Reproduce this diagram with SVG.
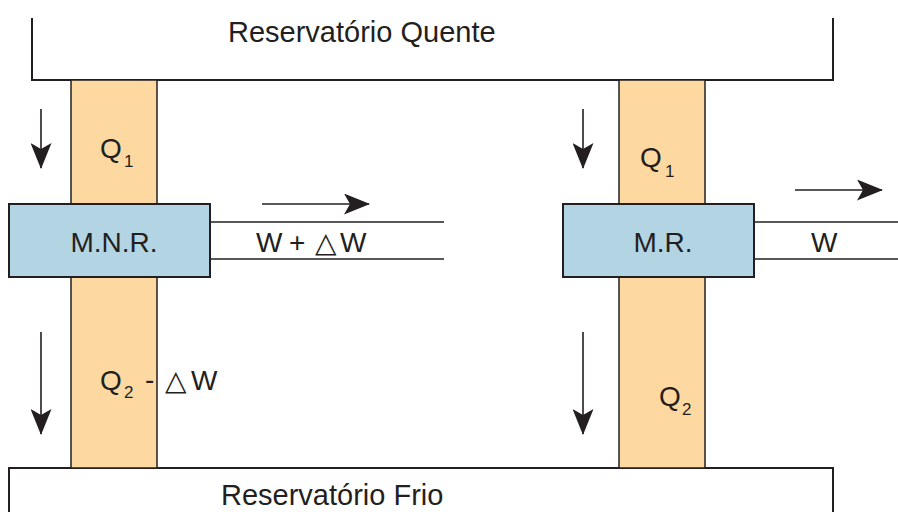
<svg xmlns="http://www.w3.org/2000/svg" width="898" height="512" viewBox="0 0 898 512">
  <defs>
    <marker id="head" viewBox="0 0 26 21" refX="25" refY="10.5" markerWidth="26" markerHeight="21" markerUnits="userSpaceOnUse" orient="auto">
      <path d="M0,0 L26,10.5 L0,21 L6,10.5 Z" fill="#231f20"/>
    </marker>
  </defs>
  <style>
    .line { fill: none; stroke: #231f20; stroke-width: 2; }
    .thin { fill: none; stroke: #231f20; stroke-width: 1.6; }
    .flow { fill: #fdd9a1; stroke: #231f20; stroke-width: 1.5; }
    .engine { fill: #b3d4e3; stroke: #231f20; stroke-width: 2; }
    .arrow { fill: none; stroke: #231f20; stroke-width: 1.6; marker-end: url(#head); }
    text { font-family: "Liberation Sans", "DejaVu Sans", sans-serif; font-size: 28px; fill: #231f20; }
    .big { font-size: 29px; }
    .sub { font-size: 17px; }
    .tri { font-family: "DejaVu Sans", sans-serif; font-size: 28px; }
  </style>
  <rect width="898" height="512" fill="#ffffff"/>

  <!-- hot reservoir -->
  <g id="hot">
    <path class="line" d="M32,18 V80 H833 V18"/>
    <text class="big" x="228" y="42">Reservatório Quente</text>
  </g>

  <!-- cold reservoir -->
  <g id="cold">
    <path class="line" d="M9,520 V468 H833 V520"/>
    <text class="big" x="221" y="505">Reservatório Frio</text>
  </g>

  <!-- heat flows, irreversible engine -->
  <g id="flow-nr">
    <rect class="flow" x="71" y="80" width="86" height="388"/>
    <text x="100" y="158">Q</text>
    <text class="sub" x="124" y="167">1</text>
    <text x="100" y="390">Q</text>
    <text class="sub" x="124" y="398">2</text>
    <text x="145" y="389">-</text>
    <text class="tri" x="165" y="390">△</text>
    <text x="191" y="390">W</text>
  </g>

  <!-- heat flows, reversible engine -->
  <g id="flow-r">
    <rect class="flow" x="619" y="80" width="86" height="388"/>
    <text x="640" y="167">Q</text>
    <text class="sub" x="665" y="177">1</text>
    <text x="659" y="406">Q</text>
    <text class="sub" x="682" y="415">2</text>
  </g>

  <!-- engines -->
  <g id="mnr">
    <rect class="engine" x="9" y="204" width="201" height="73"/>
    <text x="114" y="252" text-anchor="middle" font-size="27">M.N.R.</text>
  </g>
  <g id="mr">
    <rect class="engine" x="563" y="204" width="191" height="73"/>
    <text x="663" y="252" text-anchor="middle" font-size="27">M.R.</text>
  </g>

  <!-- work outputs and direction arrows -->
  <g id="connectors">
    <line class="thin" x1="210" y1="222" x2="444" y2="222"/>
    <line class="thin" x1="210" y1="259" x2="444" y2="259"/>
    <text x="256" y="252">W</text>
    <text x="289" y="252">+</text>
    <text class="tri" x="315" y="252">△</text>
    <text x="340" y="252">W</text>

    <line class="thin" x1="754" y1="222" x2="898" y2="222"/>
    <line class="thin" x1="754" y1="259" x2="898" y2="259"/>
    <text x="811" y="252">W</text>

    <line class="arrow" x1="262" y1="204" x2="369" y2="204"/>
    <line class="arrow" x1="795" y1="190" x2="882" y2="190"/>
    <line class="arrow" x1="41" y1="109" x2="41" y2="168"/>
    <line class="arrow" x1="41" y1="332" x2="41" y2="434"/>
    <line class="arrow" x1="583" y1="109" x2="583" y2="168"/>
    <line class="arrow" x1="583" y1="332" x2="583" y2="434"/>
  </g>
</svg>
